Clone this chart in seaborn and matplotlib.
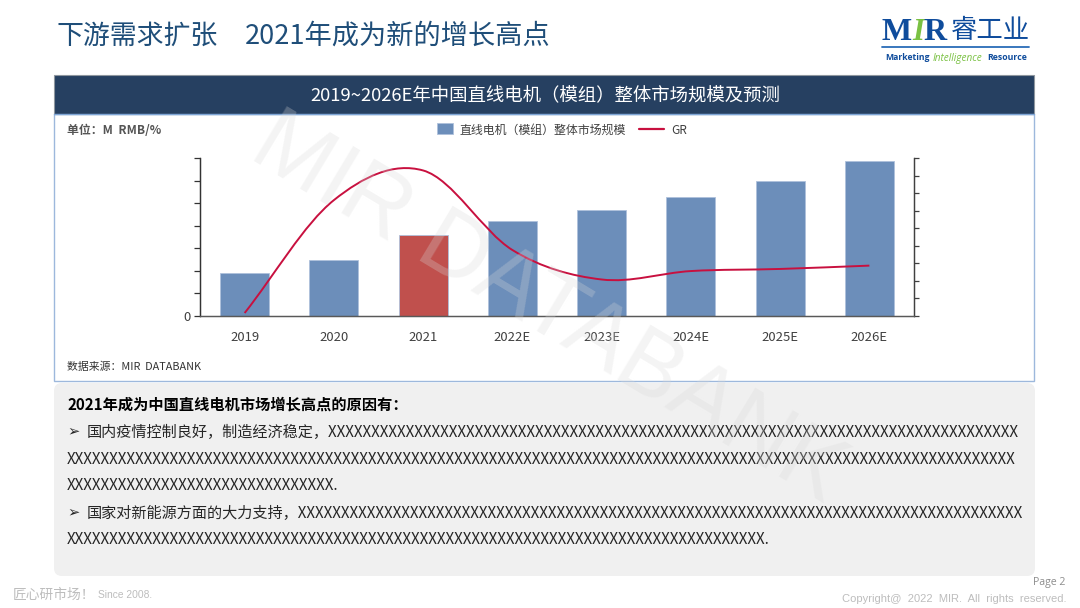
import matplotlib
matplotlib.use('Agg')
import matplotlib.pyplot as plt
import seaborn as sns
from matplotlib.patches import FancyBboxPatch, PathPatch, Rectangle
from matplotlib.path import Path

# chart data
years = ['2019', '2020', '2021', '2022E', '2023E', '2024E', '2025E', '2026E']
market_size = [190, 248, 358, 420, 469, 527, 598, 687]
growth = [1.7, 66, 82.9, 37.6, 20.8, 25.6, 26.8, 28.7]
bar_colors = ['#6C8EBA', '#6C8EBA', '#C0504D', '#6C8EBA', '#6C8EBA', '#6C8EBA', '#6C8EBA', '#6C8EBA']

title_left = '下游需求扩张'
title_right = '2021年成为新的增长高点'
chart_title = '2019~2026E年中国直线电机（模组）整体市场规模及预测'
bar_label = '直线电机（模组）整体市场规模'
line_label = 'GR'
unit = '单位：M  RMB/%'
source = '数据来源：MIR  DATABANK'
heading = '2021年成为中国直线电机市场增长高点的原因有：'
body_lines = [
    (87, '国内疫情控制良好，制造经济稳定，' + 'X' * 80),
    (67, 'X' * 110),
    (67, 'X' * 31 + '.'),
    (87, '国家对新能源方面的大力支持，' + 'X' * 84),
    (67, 'X' * 81 + '.'),
]

CJK = ['Noto Sans CJK SC', 'DejaVu Sans']
NAVY = '#264061'

sns.set_theme(style='white')
plt.rcParams['font.family'] = CJK
plt.rcParams['axes.unicode_minus'] = False

fig = plt.figure(figsize=(10.8, 6.08), dpi=100)

# page layer in pixel coordinates
bg = fig.add_axes([0, 0, 1, 1], zorder=0)
bg.set_xlim(0, 1080)
bg.set_ylim(608, 0)
bg.axis('off')

bg.text(57, 36, title_left, fontsize=19.4, color='#1F4E79', va='center')
bg.text(245, 36, title_right, fontsize=19.6, color='#1F4E79', va='center')

# chart frame and header
bg.add_patch(Rectangle((54, 114), 980, 267, fc='white', ec='#9DB8DC', lw=1))
bg.add_patch(Rectangle((54, 75), 980, 39, fc=NAVY, ec='#8F979F', lw=0.8))
bg.plot([54, 1034], [114, 114], color='#7FA6D6', lw=1)
bg.text(545, 96, chart_title, fontsize=13.25, color='white', ha='center', va='center')
bg.text(67, 130, unit, fontsize=8.6, color='#555555', fontweight='bold', va='center')
bg.text(67, 367, source, fontsize=7.8, color='#333333', style='italic', va='center')

# legend, drawn by hand because the swatch and the line have different widths
bg.add_patch(Rectangle((437, 123), 16, 11, fc='#6C8EBA', ec='#AFC1DB', lw=0.6))
bg.text(459, 130, bar_label, fontsize=8.6, color='#404040', va='center')
bg.plot([639, 664], [129, 129], color='#C8103F', lw=1.6)
bg.text(671, 130, line_label, fontsize=8.6, color='#404040', va='center')

# text panel
bg.add_patch(FancyBboxPatch((60, 389), 969, 181, boxstyle='round,pad=6,rounding_size=8',
                            fc='#F0F0F0', ec='none'))
bg.text(67, 405, heading, fontsize=10.95, color='black', fontweight='bold', va='center')
rows = [432, 459, 486, 513, 540]
for (left, txt), row in zip(body_lines, rows):
    bg.text(left, row, txt, fontsize=10.9, color='#262626', va='center')
bg.text(67, 431, '➢', fontsize=10.5, color='#262626', va='center')
bg.text(67, 512, '➢', fontsize=10.5, color='#262626', va='center')

# footer
bg.text(13, 595, '匠心研市场！', fontsize=9.9, color='#BDBDBD', va='center')
bg.text(98, 595, 'Since 2008.', fontsize=7.4, color='#BDBDBD', va='center', family='Liberation Sans')
bg.text(1065, 583, 'Page 2', fontsize=7.6, color='#8C8C8C', ha='right', va='center', family='Open Sans')
bg.text(1066, 599, 'Copyright@  2022  MIR.  All  rights  reserved.', fontsize=8, color='#BDBDBD',
        ha='right', va='center', family='Liberation Sans')

# logo
LOGO = '#0F4C9C'
bg.text(881, 32, 'M', fontsize=23, color=LOGO, family='Liberation Serif', fontweight='bold', va='center')
bg.text(912, 32, 'I', fontsize=22, color='#7AC143', family='Liberation Serif', fontweight='bold',
        style='italic', va='center')
bg.text(923, 32, 'R', fontsize=23, color=LOGO, family='Liberation Serif', fontweight='bold', va='center')
bg.text(951, 31, '睿工业', fontsize=19, color=LOGO, va='center')
bg.plot([882, 1029], [47, 47], color='#2A6CB8', lw=1.3)
bg.text(885, 57, 'Marketing', fontsize=6.2, color=LOGO, fontweight='bold', va='center', family='Open Sans')
bg.text(933, 58, 'Intelligence', fontsize=7.2, color='#7AC143', style='italic', va='center', family='Open Sans')
bg.text(987, 57, 'Resource', fontsize=6.3, color=LOGO, fontweight='bold', va='center', family='Open Sans')

# chart, about 200-914 px across and 158-316 px down
ax = fig.add_axes([200 / 1080, 1 - 316 / 608, 714 / 1080, 158 / 608], zorder=1)
ax.patch.set_alpha(0)
sns.barplot(x=years, y=market_size, hue=years, palette=bar_colors, legend=False,
            width=0.55, saturation=1, edgecolor='#AFC1DB', linewidth=0.6, ax=ax)
ax.set_xlim(-0.5, 7.5)
ax.set_ylim(0, 700)
ax.set_yticks(range(0, 701, 100))
ax.set_yticklabels(['0'] + [''] * 7, fontsize=9.5, color='#404040')
ax.tick_params(axis='y', left=True, length=4, width=0.9, color='#333333', pad=3)
ax.tick_params(axis='x', bottom=False, labelsize=9.4, labelcolor='#404040', pad=5)
ax.set_xlabel('')
ax.set_ylabel('')

ax2 = ax.twinx()
ax2.set_ylim(0, 90)
ax2.set_yticks(range(0, 91, 10))
ax2.set_yticklabels([])
ax2.tick_params(axis='y', right=True, length=3.5, width=0.9, color='#404040')
ax2.grid(False)
ax.grid(False)
for a in (ax, ax2):
    a.spines['top'].set_visible(False)
    a.spines['left'].set_color('#333333')
    a.spines['right'].set_color('#404040')
    a.spines['bottom'].set_color('#595959')
    for s in a.spines.values():
        s.set_linewidth(0.9)

# smoothed line the way the office chart does it: bezier segments through the values
last = len(growth) - 1
verts = [(0, growth[0])]
codes = [Path.MOVETO]
for i in range(last):
    slope_a = (growth[i + 1] - growth[i - 1]) / 2 if i > 0 else growth[1] - growth[0]
    slope_b = (growth[i + 2] - growth[i]) / 2 if i + 1 < last else growth[last] - growth[last - 1]
    verts += [(i + 1 / 3, growth[i] + slope_a / 3),
              (i + 2 / 3, growth[i + 1] - slope_b / 3),
              (i + 1, growth[i + 1])]
    codes += [Path.CURVE4] * 3
ax2.add_patch(PathPatch(Path(verts, codes), fc='none', ec='#C8103F', lw=1.4))

# watermark over everything
fig.text(548 / 1080, 1 - 310 / 608, 'MIR DATABANK', fontsize=66, color='#D9D9D9', alpha=0.28,
         rotation=-31, ha='center', va='center', family='Liberation Sans', zorder=5)

fig.savefig('out.png', dpi=100)
